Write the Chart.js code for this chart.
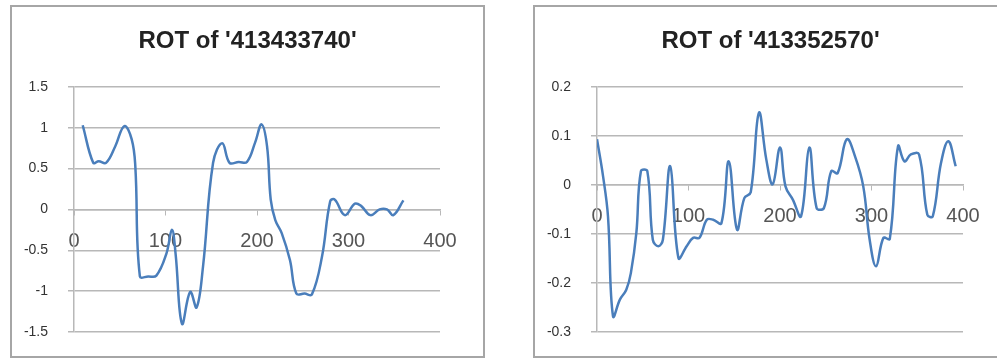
<!DOCTYPE html>
<html>
<head>
<meta charset="utf-8">
<script src="https://cdn.jsdelivr.net/npm/chart.js@4/dist/chart.umd.min.js"></script>
<style>
    body { margin: 0; width: 997px; height: 361px; overflow: hidden; background: #fff; position: relative; }
    .box { position: absolute; top: 5px; width: 471px; height: 349px; border: 2px solid #a6a6a6; background: #fff; }
    #boxA { left: 10px; }
    #boxB { left: 533px; }
</style>
</head>
<body>
<div class="box" id="boxA"><canvas id="chartA" width="471" height="349"></canvas></div>
<div class="box" id="boxB"><canvas id="chartB" width="471" height="349"></canvas></div>
<script>
// ROT of '413433740'
const titleA = "ROT of '413433740'";
const rotAX = [9.5, 21, 27, 35, 45, 55, 63, 67, 72, 81, 90, 101, 107, 111, 118, 127, 134, 141, 152, 162, 170, 180, 189, 198, 205, 211, 215, 220, 227, 236, 243, 252, 260, 271, 280, 285, 296, 307, 314, 324, 334, 342, 349, 360];
const rotAY = [1.03, 0.57, 0.59, 0.57, 0.77, 1.02, 0.86, 0.53, -0.82, -0.82, -0.81, -0.54, -0.25, -0.54, -1.40, -1.01, -1.20, -0.70, 0.57, 0.81, 0.57, 0.58, 0.58, 0.82, 1.04, 0.77, 0.12, -0.13, -0.29, -0.62, -1.03, -1.03, -1.04, -0.58, 0.10, 0.12, -0.07, 0.07, 0.04, -0.07, 0.0, 0.0, -0.07, 0.11];

// ROT of '413352570'
const titleB = "ROT of '413352570'";
const rotBX = [0, 6.6, 12, 17.5, 25, 32, 37, 43, 48, 55, 61, 67, 72, 80, 89, 98, 105, 112, 120, 127, 136, 144, 153, 161, 168, 177, 185, 192, 200, 206, 214, 223, 232, 240, 248, 256, 263, 273, 282, 291, 298, 305, 313, 320, 329, 336, 343, 352, 361, 367, 376, 384, 392];
const rotBY = [0.093, 0.018, -0.064, -0.268, -0.234, -0.214, -0.18, -0.098, 0.028, 0.028, -0.112, -0.125, -0.112, 0.038, -0.149, -0.125, -0.108, -0.108, -0.071, -0.071, -0.078, 0.048, -0.091, -0.027, -0.015, 0.147, 0.052, 0.001, 0.076, -0.003, -0.03, -0.064, 0.076, -0.047, -0.047, 0.028, 0.024, 0.093, 0.058, -0.003, -0.112, -0.166, -0.108, -0.11, 0.079, 0.048, 0.062, 0.062, -0.061, -0.064, 0.045, 0.089, 0.038];

const xTicks = { min: 0, max: 400, step: 100 };
const yTicksA = { min: -1.5, max: 1.5, step: 0.5 };
const yTicksB = { min: -0.3, max: 0.2, step: 0.1 };

const gridColor = '#b8b8b8';
const lineColor = '#4a7ebb';

function fixWidth(w) {
    return s => {
        s.width = w;
        s.paddingTop = 0;
        s.paddingBottom = 0;
    };
}

function makeChart(id, title, xs, ys, yRange) {
    const ctx = document.getElementById(id).getContext('2d');
    const points = xs.map((x, i) => ({ x: x, y: ys[i] }));
    return new Chart(ctx, {
        type: 'line',
        data: {
            datasets: [{
                data: points,
                borderColor: lineColor,
                borderWidth: 2.5,
                pointRadius: 0,
                tension: 0.4,
                fill: false
            }]
        },
        options: {
            responsive: false,
            animation: false,
            layout: { padding: { left: 0, right: 0, top: 0, bottom: 24 } },
            plugins: {
                legend: { display: false },
                tooltip: { enabled: false },
                title: {
                    display: true,
                    text: title,
                    color: '#222',
                    font: { family: 'Liberation Sans', size: 24, weight: 'bold' },
                    padding: { top: 20, bottom: 31 }
                }
            },
            scales: {
                x: {
                    type: 'linear',
                    position: { y: 0 },
                    min: xTicks.min,
                    max: xTicks.max,
                    ticks: {
                        stepSize: xTicks.step,
                        color: '#555',
                        font: { family: 'Liberation Sans', size: 20 },
                        padding: 15,
                        maxRotation: 0
                    },
                    grid: { drawOnChartArea: false, drawTicks: true, tickLength: 5, color: gridColor },
                    border: { display: true, color: gridColor, width: 1.5 }
                },
                y: {
                    min: yRange.min,
                    max: yRange.max,
                    afterFit: fixWidth(62),
                    ticks: {
                        stepSize: yRange.step,
                        color: '#333',
                        font: { family: 'Liberation Sans', size: 14 },
                        padding: 20,
                        callback: v => String(+v.toFixed(2))
                    },
                    grid: { color: gridColor, lineWidth: 1.5, tickLength: 6 },
                    border: { display: true, color: gridColor, width: 1.5 }
                },
                // empty right axis, only keeps the gap right of the plot
                yRight: {
                    position: 'right',
                    afterFit: fixWidth(43),
                    ticks: { display: false },
                    grid: { display: false },
                    border: { display: false }
                }
            }
        }
    });
}

makeChart('chartA', titleA, rotAX, rotAY, yTicksA);
makeChart('chartB', titleB, rotBX, rotBY, yTicksB);
</script>
</body>
</html>
